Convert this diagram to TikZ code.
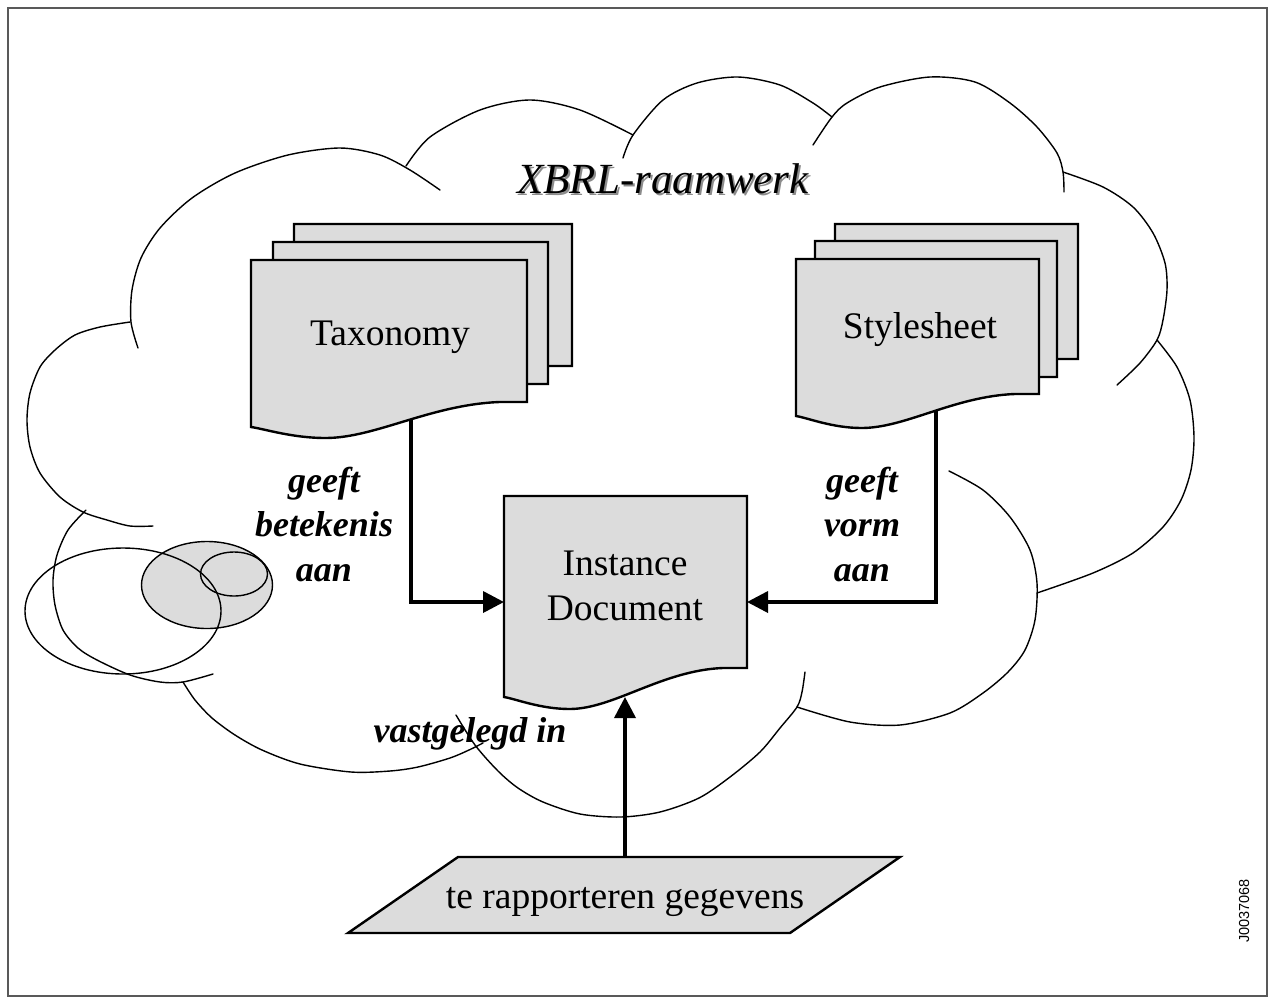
\documentclass[tikz,border=0pt]{standalone}
\usepackage{fontspec}
\setmainfont{Liberation Serif}
\newfontfamily\tagfont{Liberation Sans}
\usetikzlibrary{arrows.meta}

\definecolor{docgray}{HTML}{DCDCDC}

% document page with a wavy lower edge:
% #1 left x, #2 top y, #3 right x, #4 y of lower right corner,
% #5 drop of lower left corner, #6 drop of the wave's lowest point
\newcommand{\docpage}[6]{%
  \pgfmathsetmacro\dw{#3-#1}%
  \path[docpage] (#1,#2) -- (#3,#2) -- (#3,#4) -- ({#3-0.1*\dw},#4)
    .. controls ({#3-0.35*\dw},{#4+0.01*\dw}) and ({#1+0.45*\dw},{#4+#6}) .. ({#1+0.27*\dw},{#4+#6})
    .. controls ({#1+0.15*\dw},{#4+#6}) and ({#1+0.05*\dw},{#4+#5+2}) .. (#1,{#4+#5}) -- cycle;}

\begin{document}
\begin{tikzpicture}[x=1pt,y=-1pt,
  cloudline/.style={line width=1.4pt, line join=round, line cap=round},
  docpage/.style={fill=docgray, draw=black, line width=2.4pt, line join=miter},
  flow/.style={line width=3.6pt, -{Triangle[length=21pt,width=21pt]}},
  bodytext/.style={font=\fontsize{37.5}{45}\selectfont, inner sep=0pt, align=center},
  relabel/.style={font=\fontsize{36}{44.5}\selectfont\bfseries\itshape, inner sep=0pt, align=center},
  venn/.style={line width=1.4pt},
  titletext/.style={font=\fontsize{43}{50}\selectfont\itshape, anchor=base, inner sep=0pt},
]
\useasboundingbox (0,0) rectangle (1269,997);

% outer frame
\draw[line width=1.5pt, black!65] (8,8) rectangle (1267,996);

% ---- cloud outline, one bump at a time ----
\draw[cloudline] plot[smooth] coordinates {(138,348) (131,322) (132,290) (141,258) (160,228) (192,198) (235,173) (288,155) (340,148) (380,155) (410,170) (440,190)};
\draw[cloudline] plot[smooth] coordinates {(406,166) (430,137) (480,110) (530,100) (580,110) (633,135)};
\draw[cloudline] plot[smooth] coordinates {(623,158) (633,135) (663,100) (697,83) (738,77) (780,85) (813,103) (832,117)};
\draw[cloudline] plot[smooth] coordinates {(813,145) (832,117) (847,103) (880,87) (930,77) (975,82) (1010,103) (1037,127) (1057,153) (1063,172) (1064,192)};
\draw[cloudline] plot[smooth] coordinates {(1063,172) (1103,187) (1133,207) (1153,233) (1165,263) (1167,290) (1163,320) (1157,340) (1140,363) (1117,385)};
\draw[cloudline] plot[smooth] coordinates {(1157,340) (1177,367) (1190,400) (1194,437) (1191,470) (1181,500) (1163,527) (1133,553) (1093,573) (1037,593)};
\draw[cloudline] plot[smooth] coordinates {(949,471) (983,490) (1010,517) (1030,550) (1037,583) (1035,620) (1025,650) (1008,672) (983,693) (950,713) (900,725) (850,722) (797,707)};
\draw[cloudline] plot[smooth] coordinates {(805,672) (802,692) (797,707) (780,728) (760,752) (730,777) (699,798) (660,812) (621,817) (580,814) (543,802) (518,788) (498,771) (475,745) (456,715)};
\draw[cloudline] plot[smooth] coordinates {(183,682) (195,700) (212,718) (235,735) (262,750) (300,764) (351,772) (390,771) (418,767) (450,758) (469,750) (483,743)};
\draw[cloudline] plot[smooth] coordinates {(86,510) (68,530) (57,555) (53,580) (55,605) (63,630) (78,648) (97,660) (130,675) (160,682) (183,682) (213,674)};
\draw[cloudline] plot[smooth] coordinates {(130,322) (100,327) (75,335) (55,350) (40,367) (30,393) (27,420) (30,447) (40,473) (60,497) (83,512) (107,520) (130,526) (153,526)};

% ---- overlapping sets ----
\filldraw[venn, fill=docgray] (207,585) ellipse [x radius=65.5, y radius=43.5];
\draw[venn] (234,574) ellipse [x radius=33.5, y radius=22];
\draw[venn] (123,611) ellipse [x radius=98, y radius=63];

% ---- title with drop shadow ----
\node[titletext, text=black!45] (titleshade) at (665,195) {XBRL-raamwerk};
\node[titletext] (title) at (663,193) {XBRL-raamwerk};

% ---- connection points ----
\coordinate (taxfoot) at (411,400);
\coordinate (stylefoot) at (936,392);
\coordinate (instW) at (504,602);
\coordinate (instE) at (747,602);
\coordinate (instS) at (625,697);
\coordinate (dataN) at (625,857);

% ---- connectors ----
\draw[flow] (taxfoot) |- (instW);
\draw[flow] (stylefoot) |- (instE);
\draw[flow] (dataN) -- (instS);

% ---- taxonomy stack ----
\docpage{294}{224}{572}{366}{25}{36}
\docpage{273}{242}{548}{384}{25}{36}
\docpage{251}{260}{527}{402}{25}{36}
\node[bodytext, anchor=base] (tax) at (390,345) {Taxonomy};

% ---- stylesheet stack ----
\docpage{835}{224}{1078}{359}{22}{34}
\docpage{815}{241}{1057}{377}{22}{34}
\docpage{796}{259}{1039}{394}{22}{34}
\node[bodytext, anchor=base] (style) at (920,338) {Stylesheet};

% ---- instance document ----
\docpage{504}{496}{747}{668}{29}{41}
\node[bodytext] (inst) at (625,586) {Instance\\Document};

% ---- input data ----
\path[docpage] (458,857) -- (900,857) -- (790,933) -- (348,933) -- cycle;
\node[bodytext, anchor=base] (data) at (625,908) {te rapporteren gegevens};

% ---- relation labels ----
\node[relabel] (meaning) at (324,524) {geeft\\betekenis\\aan};
\node[relabel] (form) at (862,524) {geeft\\vorm\\aan};
\node[relabel, anchor=base] (recorded) at (470,742) {vastgelegd in};

% ---- drawing code ----
\node[rotate=90, font=\tagfont\fontsize{14.5}{14.5}\selectfont, inner sep=0pt] (code) at (1244,911) {J0037068};
\end{tikzpicture}
\end{document}
